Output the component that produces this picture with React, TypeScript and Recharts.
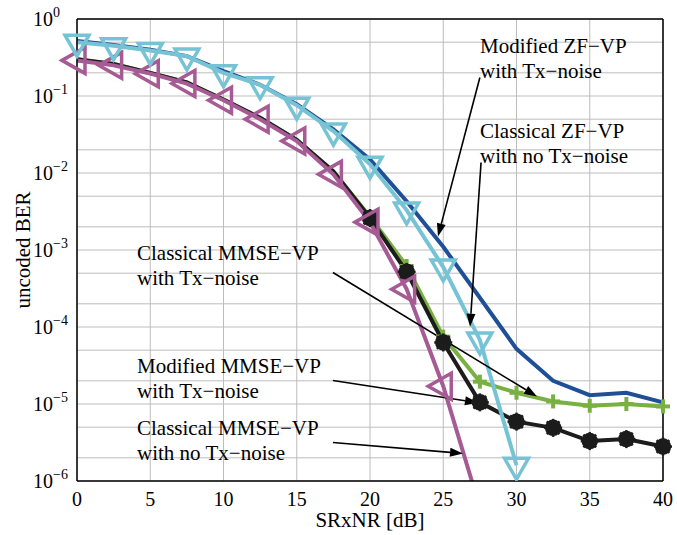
import { LineChart, Line, XAxis, YAxis, CartesianGrid, ReferenceLine } from 'recharts';

const snr = [0, 2.5, 5, 7.5, 10, 12.5, 15, 17.5, 20, 22.5, 25, 27.5, 30, 32.5, 35, 37.5, 40];

// Modified ZF-VP with Tx-noise (dark blue, no markers)
const modifiedZf = [0.52, 0.46, 0.4, 0.33, 0.21, 0.14, 0.078, 0.037, 0.015, 0.0043, 1.1e-3, 2.4e-4, 5.2e-5, 2.0e-5, 1.3e-5, 1.4e-5, 1.05e-5];
// Classical ZF-VP with no Tx-noise (light blue, down triangles)
const classicalZf = [0.5, 0.45, 0.39, 0.33, 0.2, 0.14, 0.076, 0.035, 0.013, 0.0033, 6.0e-4, 6.8e-5, 1.6e-6, null, null, null, null];
// Classical MMSE-VP with Tx-noise (green, plus)
const classicalMmseTx = [0.3, 0.26, 0.2, 0.15, 0.09, 0.052, 0.027, 0.0105, 2.7e-3, 6.2e-4, 7.5e-5, 1.95e-5, 1.4e-5, 1.08e-5, 9.5e-6, 1.0e-5, 9.3e-6];
// Modified MMSE-VP with Tx-noise (black, asterisk)
const modifiedMmseTx = [0.3, 0.26, 0.2, 0.15, 0.09, 0.052, 0.027, 0.0105, 2.6e-3, 5.2e-4, 6.3e-5, 1.05e-5, 5.9e-6, 4.9e-6, 3.3e-6, 3.5e-6, 2.8e-6];
// Classical MMSE-VP with no Tx-noise (magenta, left triangles)
const classicalMmseNoTx = [0.29, 0.25, 0.195, 0.145, 0.088, 0.05, 0.026, 0.0096, 2.3e-3, 3.1e-4, 1.7e-5, 4.5e-7, null, null, null, null, null];

const xTicks = [0, 5, 10, 15, 20, 25, 30, 35, 40];
const yTicks = [1e-6, 1e-5, 1e-4, 1e-3, 1e-2, 1e-1, 1];

const gridY: number[] = [];
yTicks.slice(0, -1).forEach((d) => {
  for (let m = 1; m < 10; m++) gridY.push(d * m);
});
gridY.push(1);

const data = snr.map((x, i) => ({
  snr: x,
  modZf: modifiedZf[i],
  clsZf: classicalZf[i],
  clsMmseTx: classicalMmseTx[i],
  modMmseTx: modifiedMmseTx[i],
  clsMmseNoTx: classicalMmseNoTx[i],
}));

const FONT = "'Liberation Serif', 'DejaVu Serif', serif";
const C_DARK = '#1f4f97';
const C_LIGHT = '#76c3d6';
const C_GREEN = '#79b042';
const C_BLACK = '#1c1c1c';
const C_MAG = '#a65b95';

// arrows in data coordinates: [x1, y1, x2, y2] (tail -> head)
const arrows = [
  [27.5, 0.174, 24.64, 1.5e-3],
  [27.58, 0.0137, 26.83, 1.01e-4],
  [17.47, 5.1e-4, 31.4, 1.25e-5],
  [17.47, 2.02e-5, 27.37, 1.04e-5],
  [17.47, 3.16e-6, 26.35, 2.28e-6],
];

const notes = [
  { x: 480, y: 53, lines: ['Modified ZF\u2212VP', 'with Tx\u2212noise'] },
  { x: 480, y: 138, lines: ['Classical ZF\u2212VP', 'with no Tx\u2212noise'] },
  { x: 137, y: 260, lines: ['Classical MMSE\u2212VP', 'with Tx\u2212noise'] },
  { x: 137, y: 373, lines: ['Modified MMSE\u2212VP', 'with Tx\u2212noise'] },
  { x: 137, y: 435, lines: ['Classical MMSE\u2212VP', 'with no Tx\u2212noise'] },
];

const TriDown = (props: any) => {
  const { cx, cy, payload } = props;
  if (cx == null || cy == null || payload.clsZf == null) return null;
  return (
    <polygon
      points={`${cx - 12},${cy - 7} ${cx + 12},${cy - 7} ${cx},${cy + 14}`}
      fill="none"
      stroke={C_LIGHT}
      strokeWidth={3.5}
      strokeLinejoin="miter"
    />
  );
};

const TriLeft = (props: any) => {
  const { cx, cy, payload } = props;
  if (cx == null || cy == null || payload.clsMmseNoTx == null) return null;
  return (
    <polygon
      points={`${cx - 15},${cy} ${cx + 8},${cy - 13} ${cx + 8},${cy + 13}`}
      fill="none"
      stroke={C_MAG}
      strokeWidth={3.5}
    />
  );
};

const Plus = (props: any) => {
  const { cx, cy, payload } = props;
  if (cx == null || cy == null || payload.snr < 22.5) return null;
  return (
    <g stroke={C_GREEN} strokeWidth={4}>
      <line x1={cx - 7} y1={cy} x2={cx + 7} y2={cy} />
      <line x1={cx} y1={cy - 7} x2={cx} y2={cy + 7} />
    </g>
  );
};

const Star = (props: any) => {
  const { cx, cy, payload } = props;
  if (cx == null || cy == null || payload.snr < 20) return null;
  const spokes = [0, 45, 90, 135].map((a) => {
    const r = (a * Math.PI) / 180;
    const dx = Math.cos(r) * 9;
    const dy = Math.sin(r) * 9;
    return <line key={a} x1={cx - dx} y1={cy - dy} x2={cx + dx} y2={cy + dy} />;
  });
  return (
    <g stroke={C_BLACK} strokeWidth={2.5}>
      <circle cx={cx} cy={cy} r={7} fill={C_BLACK} />
      {spokes}
    </g>
  );
};

const Arrow = (props: any) => {
  const { x1, y1, x2, y2 } = props;
  const ang = Math.atan2(y2 - y1, x2 - x1);
  const len = 13;
  const half = 4.5;
  const bx = x2 - Math.cos(ang) * len;
  const by = y2 - Math.sin(ang) * len;
  const px = -Math.sin(ang) * half;
  const py = Math.cos(ang) * half;
  return (
    <g>
      <line x1={x1} y1={y1} x2={bx} y2={by} stroke="#000" strokeWidth={1.6} />
      <polygon points={`${x2},${y2} ${bx + px},${by + py} ${bx - px},${by - py}`} fill="#000" />
    </g>
  );
};

const YTick = (props: any) => {
  const { y, payload } = props;
  const exp = Math.round(Math.log10(payload.value));
  return (
    <text x={33} y={y + 7} fontFamily={FONT} fontSize={20} fill="#000">
      10
      <tspan dy={-9} fontSize={14}>
        {exp === 0 ? '0' : '\u2212' + Math.abs(exp)}
      </tspan>
    </text>
  );
};

const XTick = (props: any) => {
  const { x, y, payload } = props;
  return (
    <text x={x} y={y + 17} textAnchor="middle" fontFamily={FONT} fontSize={20} fill="#000">
      {payload.value}
    </text>
  );
};

export default function App() {
  return (
    <div style={{ position: 'absolute', left: 0, top: 0, width: 677, height: 535, background: '#fff' }}>
      <LineChart width={677} height={535} data={data} margin={{ top: 19, right: 14, bottom: 0, left: 0 }}>
        <CartesianGrid horizontalValues={gridY} verticalValues={xTicks} stroke="#bdbdbd" strokeWidth={1} />
        <XAxis
          dataKey="snr"
          type="number"
          domain={[0, 40]}
          ticks={xTicks}
          height={54}
          tick={<XTick />}
          tickLine={false}
          axisLine={{ stroke: '#000', strokeWidth: 1.5 }}
          label={{
            content: (p: any) => {
              const vb = p.viewBox;
              return (
                <text x={vb.x + vb.width / 2} y={vb.y + 46} textAnchor="middle" fontFamily={FONT} fontSize={21} fill="#000">
                  SRxNR [dB]
                </text>
              );
            },
          }}
        />
        <YAxis
          type="number"
          scale="log"
          domain={[1e-6, 1]}
          allowDataOverflow
          ticks={yTicks}
          width={77}
          tick={<YTick />}
          tickLine={false}
          axisLine={{ stroke: '#000', strokeWidth: 1.5 }}
          label={{
            content: (p: any) => {
              const vb = p.viewBox;
              const cx = 23;
              const cy = vb.y + vb.height / 2;
              return (
                <text x={cx} y={cy} transform={`rotate(-90, ${cx}, ${cy})`} textAnchor="middle" dominantBaseline="central" fontFamily={FONT} fontSize={21} fill="#000">
                  uncoded BER
                </text>
              );
            },
          }}
        />
        <ReferenceLine y={1} stroke="#000" strokeWidth={1.5} />
        <ReferenceLine x={40} stroke="#000" strokeWidth={1.5} />
        <Line dataKey="modZf" stroke={C_DARK} strokeWidth={4} dot={false} isAnimationActive={false} />
        <Line dataKey="clsMmseTx" stroke={C_GREEN} strokeWidth={4} dot={<Plus />} isAnimationActive={false} />
        <Line dataKey="modMmseTx" stroke={C_BLACK} strokeWidth={4} dot={<Star />} isAnimationActive={false} />
        <Line dataKey="clsMmseNoTx" stroke={C_MAG} strokeWidth={4} dot={<TriLeft />} isAnimationActive={false} />
        <Line dataKey="clsZf" stroke={C_LIGHT} strokeWidth={4} dot={<TriDown />} isAnimationActive={false} />
        {arrows.map((a, i) => (
          <ReferenceLine
            key={i}
            segment={[
              { x: a[0], y: a[1] },
              { x: a[2], y: a[3] },
            ]}
            shape={<Arrow />}
          />
        ))}
      </LineChart>
      <svg width={677} height={535} style={{ position: 'absolute', left: 0, top: 0, pointerEvents: 'none' }}>
        {notes.map((n, i) => (
          <text key={i} x={n.x} y={n.y} fontFamily={FONT} fontSize={21} fill="#000">
            {n.lines.map((l, j) => (
              <tspan key={j} x={n.x} dy={j === 0 ? 0 : 25}>
                {l}
              </tspan>
            ))}
          </text>
        ))}
      </svg>
    </div>
  );
}
